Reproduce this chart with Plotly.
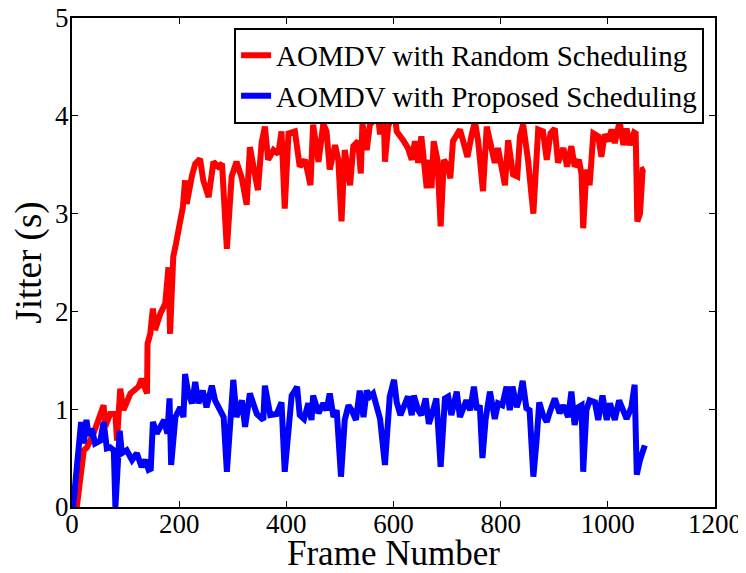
import plotly.graph_objects as go

# AOMDV with Random Scheduling (red)
random_x = [9, 22, 28, 40, 59, 62, 71, 81, 84, 90, 96, 109, 124, 130, 140, 141, 146, 151, 155, 165,
            174, 180, 183, 189, 194, 201, 207, 211, 214, 224, 230, 239, 245, 255, 264, 273, 280, 289,
            298, 307, 317, 326, 332, 342, 347, 354, 360, 366, 376, 385, 391, 397, 404, 416, 425, 435,
            445, 450, 460, 469, 475, 481, 491, 497, 503, 509, 519, 525, 534, 539, 542, 550, 556, 565,
            571, 575, 581, 584, 590, 601, 606, 618, 627, 634, 640, 646, 652, 662, 668, 671, 675, 682,
            688, 694, 702, 706, 711, 724, 730, 738, 746, 752, 758, 767, 774, 783, 789, 795, 802, 808,
            814, 823, 831, 836, 842, 848, 851, 861, 870, 879, 886, 893, 901, 907, 917, 924, 932, 938,
            946, 951, 954, 960, 966, 973, 982, 988, 994, 1001, 1007, 1013, 1022, 1029, 1035, 1041,
            1049, 1052, 1055, 1060, 1065, 1069]
random_y = [0.0, 0.58, 0.61, 0.75, 1.04, 0.82, 0.95, 0.95, 0.68, 1.21, 0.99, 1.16, 1.23, 1.31, 1.16,
            1.67, 1.77, 2.03, 1.81, 1.98, 2.08, 2.45, 1.77, 2.56, 2.69, 2.95, 3.07, 3.34, 3.10, 3.39,
            3.51, 3.56, 3.34, 3.17, 3.53, 3.48, 3.51, 2.64, 3.38, 3.53, 3.36, 3.09, 3.68, 3.38, 3.24,
            3.73, 3.89, 3.55, 3.65, 3.61, 3.84, 3.05, 3.82, 3.84, 3.48, 3.55, 3.29, 3.91, 3.53, 3.92,
            3.84, 3.45, 3.70, 3.55, 2.92, 3.65, 3.29, 3.69, 3.74, 3.41, 3.92, 3.65, 3.91, 3.96, 3.99,
            3.81, 4.20, 3.53, 3.89, 4.08, 3.84, 3.75, 3.67, 3.55, 3.74, 3.52, 3.79, 3.26, 3.55, 3.26,
            3.74, 3.55, 2.87, 3.55, 3.48, 3.36, 3.74, 3.86, 3.72, 3.58, 3.81, 3.94, 3.74, 3.23, 3.89,
            3.69, 3.52, 3.67, 3.48, 3.29, 3.75, 3.40, 3.38, 3.79, 3.91, 3.72, 3.55, 3.00, 3.86, 3.84,
            3.55, 3.82, 3.87, 3.52, 3.67, 3.48, 3.69, 3.48, 3.55, 3.40, 2.85, 3.45, 3.29, 3.82, 3.79,
            3.58, 3.81, 3.74, 3.86, 3.72, 3.94, 3.70, 3.87, 3.70, 3.83, 3.82, 2.92, 3.00, 3.45, 3.46]

# AOMDV with Proposed Scheduling (blue)
proposed_x = [2, 17, 22, 27, 31, 37, 43, 53, 59, 65, 71, 78, 81, 89, 93, 102, 112, 121, 130, 137, 143,
              147, 151, 158, 165, 172, 178, 182, 185, 193, 202, 208, 211, 217, 224, 230, 236, 244, 251,
              261, 267, 276, 283, 289, 301, 307, 317, 323, 332, 345, 357, 360, 370, 382, 391, 397, 404,
              410, 416, 420, 425, 433, 441, 447, 450, 460, 469, 475, 481, 488, 494, 502, 509, 516, 522,
              530, 537, 544, 550, 556, 562, 568, 575, 584, 593, 601, 606, 613, 621, 627, 634, 638, 646,
              652, 660, 666, 674, 680, 688, 696, 702, 708, 718, 724, 736, 743, 750, 756, 761, 766, 772,
              780, 789, 795, 803, 811, 817, 822, 830, 836, 841, 848, 854, 861, 867, 872, 879, 886, 893,
              901, 910, 917, 926, 932, 938, 945, 951, 954, 960, 966, 976, 982, 990, 998, 1004, 1013,
              1021, 1029, 1035, 1044, 1050, 1054, 1060, 1069]
proposed_y = [0.0, 0.87, 0.65, 0.89, 0.73, 0.80, 0.65, 0.68, 0.87, 0.60, 0.61, 0.58, 0.0, 0.78, 0.55,
              0.58, 0.48, 0.55, 0.41, 0.48, 0.38, 0.39, 0.87, 0.75, 0.82, 0.89, 0.75, 1.11, 0.43, 0.92,
              1.02, 0.92, 1.36, 1.16, 1.06, 1.28, 1.06, 1.19, 1.02, 1.24, 1.09, 0.99, 0.92, 0.36, 1.30,
              0.92, 1.09, 0.82, 1.16, 0.95, 0.89, 1.24, 0.94, 0.95, 1.07, 0.36, 0.79, 1.14, 1.19, 1.23,
              0.94, 0.90, 1.06, 0.89, 1.14, 0.96, 1.06, 0.99, 1.16, 0.92, 0.99, 0.31, 0.89, 1.04, 0.99,
              0.89, 1.19, 0.92, 1.19, 1.13, 1.16, 1.06, 0.90, 0.43, 1.13, 1.30, 1.07, 0.94, 1.07, 1.13,
              0.94, 1.14, 0.99, 0.94, 1.11, 0.85, 0.99, 1.11, 0.41, 1.11, 1.13, 0.94, 1.18, 0.92, 1.09,
              0.99, 1.23, 0.99, 1.04, 0.50, 0.90, 1.18, 0.90, 1.06, 1.04, 1.23, 0.99, 1.23, 1.02, 1.13,
              1.29, 1.01, 0.99, 0.31, 0.68, 1.07, 0.94, 0.87, 0.99, 1.11, 0.96, 1.04, 0.92, 1.18, 0.84,
              1.02, 1.04, 0.36, 0.99, 1.09, 1.07, 0.89, 1.14, 0.89, 1.06, 0.89, 1.09, 0.99, 0.90, 1.02,
              1.25, 0.33, 0.48, 0.63]

x_ticks = [0, 200, 400, 600, 800, 1000, 1200]
y_ticks = [0, 1, 2, 3, 4, 5]

font = "Liberation Serif, Times New Roman, serif"

fig = go.Figure()
fig.add_trace(go.Scatter(x=random_x, y=random_y, mode="lines",
                         name="AOMDV with Random Scheduling",
                         line=dict(color="#ff0000", width=6)))
fig.add_trace(go.Scatter(x=proposed_x, y=proposed_y, mode="lines",
                         name="AOMDV with Proposed Scheduling",
                         line=dict(color="#0000ff", width=6)))

axis_style = dict(showline=True, linecolor="black", linewidth=2, mirror="ticks",
                  ticks="inside", ticklen=6, tickwidth=1, tickcolor="black",
                  showgrid=False, zeroline=False, automargin=False,
                  ticklabeloverflow="allow",
                  tickfont=dict(family=font, size=27, color="black"))

fig.update_xaxes(range=[0, 1200], tickvals=x_ticks, ticklabelstandoff=-8, **axis_style)
fig.update_yaxes(range=[0, 5], tickvals=y_ticks, ticklabelstandoff=-4,
                 title=dict(text="Jitter (s)", font=dict(family=font, size=37, color="black"),
                            standoff=5),
                 **axis_style)

# x title as annotation so it can sit closer to the tick labels
fig.add_annotation(text="Frame Number", xref="paper", yref="paper", x=0.5, y=-0.096,
                   xanchor="center", yanchor="middle", showarrow=False,
                   font=dict(family=font, size=35, color="black"))

# page body adds an 8px offset, so size and margins account for it
fig.update_layout(
    width=738, height=557,
    margin=dict(l=64, r=31, t=10, b=58),
    plot_bgcolor="white", paper_bgcolor="white",
    legend=dict(x=0.983, y=0.98, xanchor="right", yanchor="top",
                bordercolor="black", borderwidth=2, bgcolor="white",
                font=dict(family=font, size=29, color="black"),
                tracegroupgap=0, itemwidth=30),
)

fig.write_html("out.html")
